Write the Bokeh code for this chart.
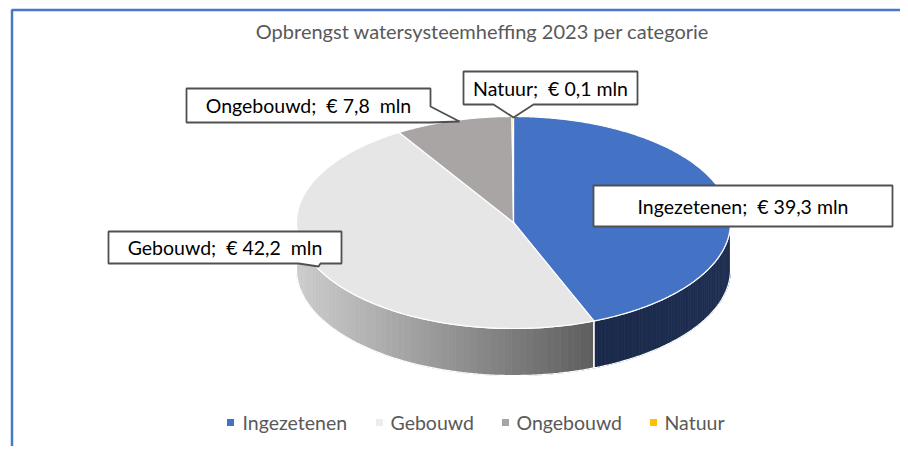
import numpy as np
from bokeh.plotting import figure
from bokeh.models import Range1d
from bokeh.embed import file_html
from bokeh.resources import INLINE
from bokeh.core.properties import value

# ---------------- data ----------------
title_text = "Opbrengst watersysteemheffing 2023 per categorie"
categories = ["Ingezetenen", "Gebouwd", "Ongebouwd", "Natuur"]
values_mln = [39.3, 42.2, 7.8, 0.1]
label_texts = ["Ingezetenen;  € 39,3 mln", "Gebouwd;  € 42,2  mln",
               "Ongebouwd;  € 7,8  mln", "Natuur;  € 0,1 mln"]

# ---------------- styles / layout ----------------
top_colors = ["#4472C4", "#E7E6E6", "#A9A5A4", "#FFC000"]
legend_colors = ["#4472C4", "#EDEDED", "#A5A5A5", "#FFC000"]
FONT = "Lato"

W, H = 900, 446
p = figure(width=W, height=H, x_range=Range1d(0, W), y_range=Range1d(H, 0),
           output_backend="svg", toolbar_location=None, min_border=0,
           x_axis_type=None, y_axis_type=None)
p.grid.visible = False
p.outline_line_color = None
p.background_fill_color = "white"

# chart border (blue, extends beyond the right/bottom)
p.line([11.5, 11.5, 920], [470, 9.5, 9.5], line_color="#4A78C9", line_width=2.5)

# title
p.text([482], [30], text=[title_text], text_font=value(FONT), text_font_size="20px",
       text_color="#595959", text_align="center", text_baseline="middle")

# ---------------- 3D pie geometry ----------------
cx, cy, rx, ry, depth = 513.0, 222.0, 217.0, 106.0, 47.0
vals = np.array(values_mln, dtype=float)
fr = vals / vals.sum()
ends = np.cumsum(fr) * 360.0
starts = ends - fr * 360.0


def pt(tdeg, dy=0.0):
    t = np.radians(tdeg)
    return cx + rx * np.sin(t), cy - ry * np.cos(t) + dy


def lerp_hex(c1, c2, f):
    a = [int(c1[i:i + 2], 16) for i in (1, 3, 5)]
    b = [int(c2[i:i + 2], 16) for i in (1, 3, 5)]
    return "#%02x%02x%02x" % tuple(int(round(a[k] + (b[k] - a[k]) * f)) for k in range(3))


# side walls (front half: 90..270 deg clockwise from top)
side_outline_x, side_outline_y = [], []
for i in range(len(vals)):
    a, b = max(starts[i], 90.0), min(ends[i], 270.0)
    if b <= a:
        continue
    ts = np.linspace(a, b, 80)
    xt, yt = pt(ts)
    xb, yb = pt(ts[::-1], depth)
    side_outline_x.append(list(xt) + list(xb))
    side_outline_y.append(list(yt) + list(yb))
    nstr = 60
    edges = np.linspace(a, b, nstr + 1)
    sx, sy, sc = [], [], []
    for k in range(nstr):
        tt = np.linspace(edges[k], edges[k + 1], 4)
        x1, y1 = pt(tt)
        x2, y2 = pt(tt[::-1], depth)
        sx.append(list(x1) + list(x2))
        sy.append(list(y1) + list(y2))
        xm = float(np.mean(x1))
        if i == 0:
            f = np.clip((xm - 600) / (730 - 600), 0, 1)
            sc.append(lerp_hex("#1B2A4A", "#1E2F53", f))
        else:
            f = np.clip((xm - 296) / (598 - 296), 0, 1)
            sc.append(lerp_hex("#CDCDCD", "#5C5C5C", f))
    p.patches(sx, sy, fill_color=sc, line_color=sc, line_width=0.8)

p.patches(side_outline_x, side_outline_y, fill_color=None, line_color="white", line_width=1.2)

# top faces
tx, ty = [], []
for i in range(len(vals)):
    ts = np.linspace(starts[i], ends[i], max(3, int((ends[i] - starts[i]) * 2)))
    xa, ya = pt(ts)
    tx.append([cx] + list(xa))
    ty.append([cy] + list(ya))
p.patches(tx, ty, fill_color=top_colors, line_color="white", line_width=1.2)

# ---------------- data labels (callouts) ----------------
box_color = "#505050"
callouts = [
    ([593, 892, 892, 593], [185, 185, 226, 226]),
    ([108, 341, 341, 320, 318, 298, 108], [231, 231, 263, 263, 266, 263, 263]),
    ([186, 430, 430, 459, 430, 186], [88, 88, 106, 121, 122, 122]),
    ([463, 637, 637, 533, 513, 493, 463], [71, 71, 104, 104, 117, 104, 104]),
]
p.patches([c[0] for c in callouts], [c[1] for c in callouts], fill_color="white",
          line_color=box_color, line_width=1.8)
lab_x = [742.5, 224.5, 308, 550]
lab_y = [206, 247, 105, 88]
shown = [t.replace("  ", " \u00a0") for t in label_texts]
p.text(lab_x, lab_y, text=shown, text_font=value(FONT), text_font_size="19.5px",
       text_color="#000000", text_align="center", text_baseline="middle")

# ---------------- legend ----------------
leg_sq_x = [230, 379, 505, 653]
leg_tx_x = [242, 390, 516, 664]
leg_y = 422
p.rect(leg_sq_x, [leg_y] * 4, width=7, height=7, fill_color=legend_colors, line_color=None)
p.text(leg_tx_x, [leg_y] * 4, text=categories, text_font=value(FONT), text_font_size="19.5px",
       text_color="#595959", text_align="left", text_baseline="middle")

open("out.html", "w").write(file_html(p, INLINE))
